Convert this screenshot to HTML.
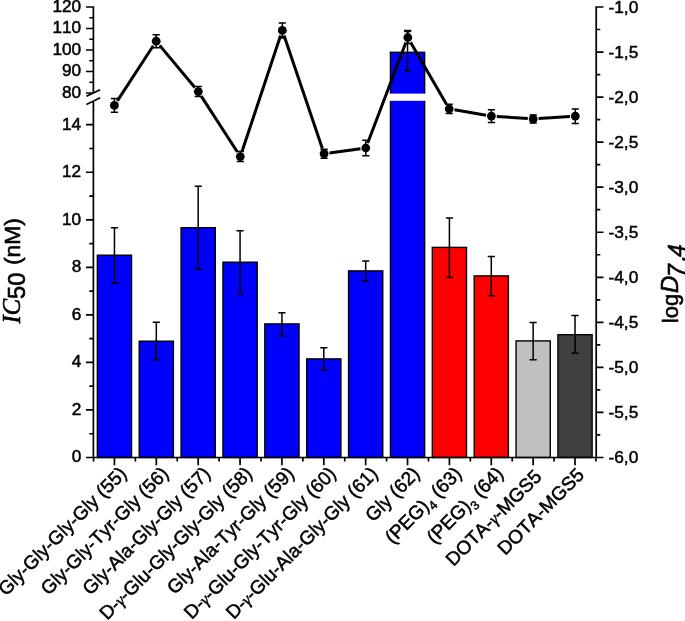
<!DOCTYPE html>
<html lang="en"><head><meta charset="utf-8"><title>IC50 and logD chart</title>
<style>
html,body{margin:0;padding:0;background:#fff;}
body{width:685px;height:621px;overflow:hidden;}
svg{display:block;}
text{font-family:"Liberation Sans",sans-serif;fill:#000;stroke:#000;stroke-width:0.5px;font-kerning:none;}
.tk{font-size:17.3px;}
.xl{font-size:19.05px;stroke-width:0.55px;}
.gm{font-family:"Liberation Serif","DejaVu Serif",serif;font-style:italic;font-size:17px;}
.sub{font-size:12.5px;}
.ax{stroke:#000;stroke-width:1.7;fill:none;}
.eb{stroke:#000;stroke-width:1.5;fill:none;}
.bar{stroke:#000;stroke-width:1.4;}
</style></head><body>
<svg width="685" height="621" viewBox="0 0 685 621">
<rect width="685" height="621" fill="#fff"/>
<g id="bars">
<rect class="bar" x="97.35" y="255.2" width="34.2" height="202.30" fill="#0000ff"/>
<rect class="bar" x="139.22" y="341.2" width="34.2" height="116.30" fill="#0000ff"/>
<rect class="bar" x="181.09" y="227.7" width="34.2" height="229.80" fill="#0000ff"/>
<rect class="bar" x="222.96" y="262.2" width="34.2" height="195.30" fill="#0000ff"/>
<rect class="bar" x="264.83" y="323.9" width="34.2" height="133.60" fill="#0000ff"/>
<rect class="bar" x="306.70" y="358.9" width="34.2" height="98.60" fill="#0000ff"/>
<rect class="bar" x="348.57" y="270.9" width="34.2" height="186.60" fill="#0000ff"/>
<rect class="bar" x="390.44" y="52.3" width="34.2" height="405.20" fill="#0000ff"/>
<rect class="bar" x="432.31" y="247.4" width="34.2" height="210.10" fill="#ff0000"/>
<rect class="bar" x="474.18" y="275.9" width="34.2" height="181.60" fill="#ff0000"/>
<rect class="bar" x="516.05" y="340.9" width="34.2" height="116.60" fill="#c0c0c0"/>
<rect class="bar" x="557.92" y="334.7" width="34.2" height="122.80" fill="#404040"/>
<rect x="388.94" y="93.6" width="37.2" height="7.2" fill="#fff"/>
</g>
<g id="barerr">
<path class="eb" d="M114.45 227.8V283.2M110.85 227.8H118.05M110.85 283.2H118.05"/>
<path class="eb" d="M156.32 322.3V359.7M152.72 322.3H159.92M152.72 359.7H159.92"/>
<path class="eb" d="M198.19 186.3V269.2M194.59 186.3H201.79M194.59 269.2H201.79"/>
<path class="eb" d="M240.06 230.8V294.2M236.46 230.8H243.66M236.46 294.2H243.66"/>
<path class="eb" d="M281.93 312.8V335.9M278.33 312.8H285.53M278.33 335.9H285.53"/>
<path class="eb" d="M323.80 347.8V369.7M320.20 347.8H327.40M320.20 369.7H327.40"/>
<path class="eb" d="M365.67 261V280.9M362.07 261H369.27M362.07 280.9H369.27"/>
<path class="eb" d="M407.54 30.5V70.5M403.94 30.5H411.14M403.94 70.5H411.14"/>
<path class="eb" d="M449.41 218V277.4M445.81 218H453.01M445.81 277.4H453.01"/>
<path class="eb" d="M491.28 256.5V295.7M487.68 256.5H494.88M487.68 295.7H494.88"/>
<path class="eb" d="M533.15 322.5V359.7M529.55 322.5H536.75M529.55 359.7H536.75"/>
<path class="eb" d="M575.02 315.5V353.2M571.42 315.5H578.62M571.42 353.2H578.62"/>
</g>
<g id="axes">
<path class="ax" d="M93.4 6.15V92.6M93.4 101V457.5M86.0 93.00H93.4M86.0 71.50H93.4M86.0 50.00H93.4M86.0 28.50H93.4M86.0 7.00H93.4M89.30000000000001 82.25H93.4M89.30000000000001 60.75H93.4M89.30000000000001 39.25H93.4M89.30000000000001 17.75H93.4M86.0 457.50H93.4M86.0 409.96H93.4M86.0 362.42H93.4M86.0 314.88H93.4M86.0 267.34H93.4M86.0 219.80H93.4M86.0 172.26H93.4M86.0 124.72H93.4M89.30000000000001 433.73H93.4M89.30000000000001 386.19H93.4M89.30000000000001 338.65H93.4M89.30000000000001 291.11H93.4M89.30000000000001 243.57H93.4M89.30000000000001 196.03H93.4M89.30000000000001 148.49H93.4M86.4 96.3L100.2 89.7M86.4 104.6L100.2 97.8M92.55000000000001 457.5H597.0500000000001M114.45 457.5V465.3M156.32 457.5V465.3M198.19 457.5V465.3M240.06 457.5V465.3M281.93 457.5V465.3M323.80 457.5V465.3M365.67 457.5V465.3M407.54 457.5V465.3M449.41 457.5V465.3M491.28 457.5V465.3M533.15 457.5V465.3M575.02 457.5V465.3M93.52 457.5V461.5M135.38 457.5V461.5M177.25 457.5V461.5M219.12 457.5V461.5M261.00 457.5V461.5M302.87 457.5V461.5M344.73 457.5V461.5M386.60 457.5V461.5M428.47 457.5V461.5M470.34 457.5V461.5M512.22 457.5V461.5M554.09 457.5V461.5M595.95 457.5V461.5M596.2 6.15V457.5M596.2 7.00H603.5M596.2 52.05H603.5M596.2 97.10H603.5M596.2 142.15H603.5M596.2 187.20H603.5M596.2 232.25H603.5M596.2 277.30H603.5M596.2 322.35H603.5M596.2 367.40H603.5M596.2 412.45H603.5M596.2 457.50H603.5M596.2 29.52H600.3000000000001M596.2 74.57H600.3000000000001M596.2 119.62H600.3000000000001M596.2 164.67H600.3000000000001M596.2 209.72H600.3000000000001M596.2 254.77H600.3000000000001M596.2 299.82H600.3000000000001M596.2 344.87H600.3000000000001M596.2 389.92H600.3000000000001M596.2 434.97H600.3000000000001"/>
</g>
<g id="line">
<path fill="none" stroke="#000" stroke-width="3" d="M117.35 100.87L153.25 45.73M159.66 45.34L194.84 87.46M201.23 96.14L237.37 152.06M242.01 151.48L280.59 35.52M284.03 35.51L322.37 148.59M329.45 152.97L360.45 148.73M367.72 142.95L405.88 42.55M410.51 42.17L446.49 104.13M454.52 109.72L486.08 115.18M496.79 116.46L527.81 118.54M538.59 118.55L569.91 116.55"/>
<path class="eb" d="M114.4 98.60000000000001V112.2M110.80000000000001 98.60000000000001H118.0M110.80000000000001 112.2H118.0"/>
<circle cx="114.4" cy="105.4" r="4.4" fill="#000"/>
<path class="eb" d="M156.2 34.7V47.7M152.6 34.7H159.79999999999998M152.6 47.7H159.79999999999998"/>
<circle cx="156.2" cy="41.2" r="4.4" fill="#000"/>
<path class="eb" d="M198.3 86.6V96.6M194.70000000000002 86.6H201.9M194.70000000000002 96.6H201.9"/>
<circle cx="198.3" cy="91.6" r="4.4" fill="#000"/>
<path class="eb" d="M240.3 151.6V161.6M236.70000000000002 151.6H243.9M236.70000000000002 161.6H243.9"/>
<circle cx="240.3" cy="156.6" r="4.4" fill="#000"/>
<path class="eb" d="M282.3 22.9V37.9M278.7 22.9H285.90000000000003M278.7 37.9H285.90000000000003"/>
<circle cx="282.3" cy="30.4" r="4.4" fill="#000"/>
<path class="eb" d="M324.1 149.2V158.2M320.5 149.2H327.70000000000005M320.5 158.2H327.70000000000005"/>
<circle cx="324.1" cy="153.7" r="4.4" fill="#000"/>
<path class="eb" d="M365.8 140.2V155.8M362.2 140.2H369.40000000000003M362.2 155.8H369.40000000000003"/>
<circle cx="365.8" cy="148" r="4.4" fill="#000"/>
<path class="eb" d="M407.8 31.5V43.5M404.2 31.5H411.40000000000003M404.2 43.5H411.40000000000003"/>
<circle cx="407.8" cy="37.5" r="4.4" fill="#000"/>
<path class="eb" d="M449.2 104.2V113.39999999999999M445.59999999999997 104.2H452.8M445.59999999999997 113.39999999999999H452.8"/>
<circle cx="449.2" cy="108.8" r="4.4" fill="#000"/>
<path class="eb" d="M491.4 109.69999999999999V122.5M487.79999999999995 109.69999999999999H495.0M487.79999999999995 122.5H495.0"/>
<circle cx="491.4" cy="116.1" r="4.4" fill="#000"/>
<path class="eb" d="M533.2 114.9V122.9M529.6 114.9H536.8000000000001M529.6 122.9H536.8000000000001"/>
<circle cx="533.2" cy="118.9" r="4.4" fill="#000"/>
<path class="eb" d="M575.3 108.9V123.5M571.6999999999999 108.9H578.9M571.6999999999999 123.5H578.9"/>
<circle cx="575.3" cy="116.2" r="4.4" fill="#000"/>
</g>
<g id="ylabels" class="tk" style="font-size:17.2px" text-anchor="end">
<text x="81.2" y="97.90">80</text>
<text x="81.2" y="76.40">90</text>
<text x="81.2" y="54.90">100</text>
<text x="81.2" y="33.40">110</text>
<text x="81.2" y="11.90">120</text>
<text x="81.2" y="462.40">0</text>
<text x="81.2" y="414.86">2</text>
<text x="81.2" y="367.32">4</text>
<text x="81.2" y="319.78">6</text>
<text x="81.2" y="272.24">8</text>
<text x="81.2" y="224.70">10</text>
<text x="81.2" y="177.16">12</text>
<text x="81.2" y="129.62">14</text>
</g>
<g id="rlabels" class="tk">
<text x="608.5" y="12.60">-1,0</text>
<text x="608.5" y="57.65">-1,5</text>
<text x="608.5" y="102.70">-2,0</text>
<text x="608.5" y="147.75">-2,5</text>
<text x="608.5" y="192.80">-3,0</text>
<text x="608.5" y="237.85">-3,5</text>
<text x="608.5" y="282.90">-4,0</text>
<text x="608.5" y="327.95">-4,5</text>
<text x="608.5" y="373.00">-5,0</text>
<text x="608.5" y="418.05">-5,5</text>
<text x="608.5" y="463.10">-6,0</text>
</g>
<g id="xlabels" class="xl" text-anchor="end">
<text transform="translate(127.75 474.80) rotate(-45)">Gly-Gly-Gly-Gly (55)</text>
<text transform="translate(169.62 474.80) rotate(-45)">Gly-Gly-Tyr-Gly (56)</text>
<text transform="translate(211.49 474.80) rotate(-45)">Gly-Ala-Gly-Gly (57)</text>
<text transform="translate(253.36 474.80) rotate(-45)">D-<tspan class="gm">γ</tspan>-Glu-Gly-Gly-Gly (58)</text>
<text transform="translate(295.23 474.80) rotate(-45)">Gly-Ala-Tyr-Gly (59)</text>
<text transform="translate(337.10 474.80) rotate(-45)">D-<tspan class="gm">γ</tspan>-Glu-Gly-Tyr-Gly (60)</text>
<text transform="translate(378.97 474.80) rotate(-45)">D-<tspan class="gm">γ</tspan>-Glu-Ala-Gly-Gly (61)</text>
<text transform="translate(420.84 474.80) rotate(-45)">Gly (62)</text>
<text transform="translate(462.71 474.80) rotate(-45)">(PEG)<tspan class="sub" dy="4.8">4</tspan><tspan dy="-4.8"> (63)</tspan></text>
<text transform="translate(504.58 474.80) rotate(-45)">(PEG)<tspan class="sub" dy="4.8">3</tspan><tspan dy="-4.8"> (64)</tspan></text>
<text transform="translate(542.65 477.80) rotate(-45)">DOTA-<tspan class="gm">γ</tspan>-MGS5</text>
<text transform="translate(585.22 476.10) rotate(-45)">DOTA-MGS5</text>
</g>
<g id="titles">
<text transform="translate(19.8 323.5) rotate(-90)" style="font-size:22.8px;stroke-width:0.6px"><tspan style="font-family:'Liberation Serif',serif;font-style:italic;font-size:24.6px">IC</tspan><tspan dy="5.2" style="font-size:23.8px">50</tspan><tspan dy="-5.2" dx="1"> (nM)</tspan></text>
<text transform="translate(678.2 323.2) rotate(-90)" style="font-size:22px;stroke-width:0.6px">log<tspan x="30.2" style="font-style:italic;font-size:24px">D</tspan><tspan style="font-style:italic;font-size:23px" x="46.2" dy="6.5">7</tspan><tspan style="font-style:italic;font-size:23px" x="61.7">,</tspan><tspan style="font-style:italic;font-size:23px" x="66.3">4</tspan></text>
</g>
</svg></body></html>
